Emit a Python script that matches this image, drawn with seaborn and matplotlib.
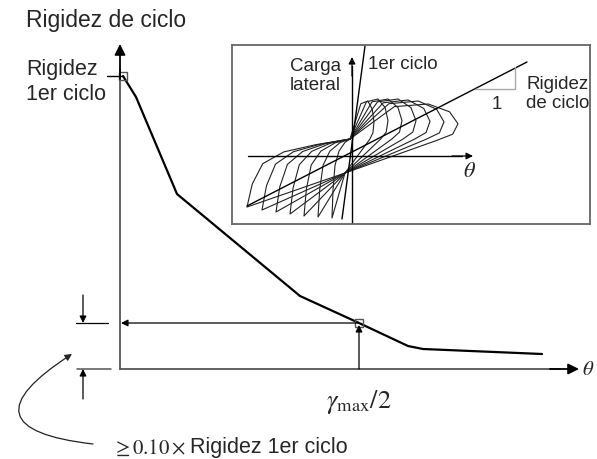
import pandas as pd
import seaborn as sns
import matplotlib.pyplot as plt
from matplotlib.patches import FancyArrowPatch

# main curve: cyclic stiffness against drift (sketch units)
drift = [3, 16, 57, 180, 239, 288, 303, 422]
stiffness = [293, 272, 175, 73, 46, 23, 20, 15]

# inset hysteresis loops: peak drift / peak load of each cycle
pos_drift = [22, 36, 50, 64, 78, 92, 106]
pos_load = [55, 57, 57, 57, 56, 55, 52]
neg_drift = [-20, -34, -48, -62, -76, -90, -105]
neg_load = [-62, -61, -60, -58, -56, -54, -51]

# pinch points shared by all loops
pinch_up = (-2, 17)
pinch_low = (-7, -17)

# loop outline as fractions of the peak (positive half, negative half)
pos_f = [(0.4, 0.95), (0.72, 1.0), (0.92, 0.85), (1.0, 0.62), (0.95, 0.42),
         (0.8, 0.3)]
neg_f = [(1.0, 1.0), (0.95, 0.55), (0.85, 0.15), (0.65, -0.08),
         (0.35, -0.22)]

first_cycle = [(13, 110), (-10, -63)]
cycle_line = [(-105, -50), (175, 94)]

sns.set_theme(style="white")
plt.rcParams["font.family"] = ["Liberation Sans", "DejaVu Sans"]
plt.rcParams["mathtext.fontset"] = "stix"

fig = plt.figure(figsize=(5.97, 4.60), dpi=100)
ax = fig.add_axes([0, 0, 1, 1])
ax.set_xlim(-120, 477)
ax.set_ylim(-90, 370)
ax.axis("off")

axis_col = "#555555"
head = dict(arrowstyle="-|>", color="black", lw=0.9, mutation_scale=10,
            shrinkA=0, shrinkB=0)
big_head = dict(arrowstyle="-|>", color="black", lw=1.3, mutation_scale=16,
                shrinkA=0, shrinkB=0)

# axes of the main diagram
ax.plot([0, 0], [0, 300], color=axis_col, lw=1.3)
ax.annotate("", xy=(0, 325), xytext=(0, 290), arrowprops=big_head)
ax.plot([0, 440], [0, 0], color=axis_col, lw=1.3)
ax.annotate("", xy=(459, 0), xytext=(430, 0), arrowprops=big_head)

df = pd.DataFrame({"drift": drift, "stiffness": stiffness})
sns.lineplot(data=df, x="drift", y="stiffness", ax=ax, color="black",
             lw=1.6, sort=False)

gx, gy = drift[4], stiffness[4]
ax.plot([drift[0], gx], [stiffness[0], gy], ls="none", marker="s", ms=6,
        mfc="none", mec="#555555", mew=1)
ax.plot([-13, drift[0]], [stiffness[0], stiffness[0]], color="black", lw=1)

ax.annotate("", xy=(1, gy), xytext=(gx, gy), arrowprops=head)
ax.annotate("", xy=(gx, gy - 2), xytext=(gx, 0), arrowprops=head)

# dimension marks on the left
ax.plot([-44, -12], [gy, gy], color="black", lw=0.9)
ax.plot([-43, -9], [0, 0], color=axis_col, lw=1.1)
ax.annotate("", xy=(-37, gy), xytext=(-37, gy + 28), arrowprops=head)
ax.annotate("", xy=(-37, 0), xytext=(-37, -30), arrowprops=head)
ax.add_patch(FancyArrowPatch((-27, -75), (-48, 15),
                             connectionstyle="arc3,rad=-1.4",
                             arrowstyle="-|>", mutation_scale=10,
                             color="#222222", lw=0.9,
                             shrinkA=0, shrinkB=0))

# labels
ax.text(-94, 350, "Rigidez de ciclo", fontsize=16.5, va="center", ha="left")
ax.text(-94, 288, "Rigidez\n1er ciclo", fontsize=15.5, va="center",
        ha="left", linespacing=1.3)
ax.text(462, 0, r"$\theta$", fontsize=15, va="center", ha="left")
ax.text(gx, -32, r"$\gamma_{\max}/2$", fontsize=19, va="center",
        ha="center")
ax.text(-8, -78, r"$\geq 0.10\times$", fontsize=15, va="center", ha="left")
ax.text(70, -78, "Rigidez 1er ciclo", fontsize=15.5, va="center",
        ha="left")

# inset: hysteresis loops
ins = fig.add_axes([232 / 597, 1 - 225 / 460, 358 / 597, 179 / 460])
ins.set_xlim(-120, 238)
ins.set_ylim(-68, 111)
ins.set_xticks([])
ins.set_yticks([])
for s in ins.spines.values():
    s.set_color("#666666")
    s.set_linewidth(1.3)

for dp, fp, dn, fn in zip(pos_drift, pos_load, neg_drift, neg_load):
    pts = [pinch_up]
    pts += [(a * dp, b * fp) for a, b in pos_f]
    pts += [pinch_low]
    pts += [(a * dn, b * fn) for a, b in neg_f]
    pts += [pinch_up]
    ins.plot([p[0] for p in pts], [p[1] for p in pts], color="#222222",
             lw=0.8)

ins.plot([-104, 110], [0, 0], color="black", lw=1)
ins.annotate("", xy=(121, 0), xytext=(100, 0), arrowprops=head)
ins.plot([0, 0], [-68, 90], color="black", lw=1)
ins.annotate("", xy=(0, 99), xytext=(0, 80), arrowprops=head)
ins.plot([p[0] for p in first_cycle], [p[1] for p in first_cycle],
         color="black", lw=1)
ins.plot([p[0] for p in cycle_line], [p[1] for p in cycle_line],
         color="black", lw=1)
ins.plot([123, 163, 163], [67, 67, 89], color="#aaaaaa", lw=1)

ins.text(-62, 81, "Carga\nlateral", fontsize=13.5, va="center", ha="left",
         linespacing=1.2)
ins.text(16, 92, "1er ciclo", fontsize=13.5, va="center", ha="left")
ins.text(174, 63, "Rigidez\nde ciclo", fontsize=13.5, va="center",
         ha="left", linespacing=1.2)
ins.text(145, 52, "1", fontsize=13.5, va="center", ha="center")
ins.text(111, -15, r"$\theta$", fontsize=16, va="center", ha="left")

fig.savefig("out.png", dpi=100)
